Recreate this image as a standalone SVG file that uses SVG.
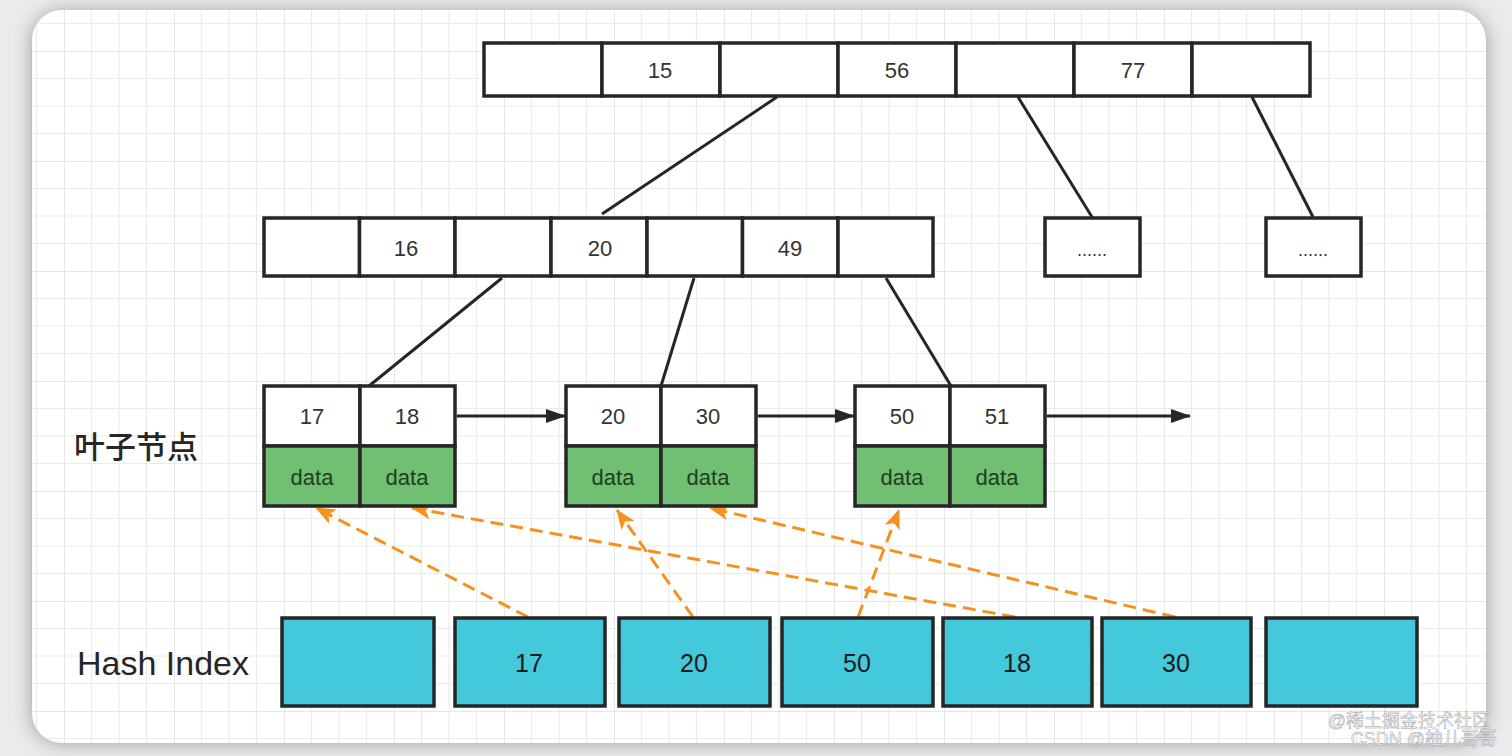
<svg xmlns="http://www.w3.org/2000/svg" width="1512" height="756" viewBox="0 0 1512 756">
<defs>
<pattern id="grid" x="64" y="51" width="110" height="110" patternUnits="userSpaceOnUse">
<path d="M27.5 0V110M55 0V110M82.5 0V110M0 27.5H110M0 55H110M0 82.5H110" stroke="#ebebeb" stroke-width="1.2" fill="none"/>
<path d="M0 0V110M0 0H110" stroke="#e0e0e0" stroke-width="1.5" fill="none"/>
</pattern>
<filter id="shadow" x="-10%" y="-10%" width="120%" height="120%">
<feGaussianBlur stdDeviation="10"/>
</filter>
<marker id="arrBlack" viewBox="0 0 20 14" refX="19" refY="7" markerWidth="20" markerHeight="14" markerUnits="userSpaceOnUse" orient="auto">
<path d="M0 0L20 7L0 14Z" fill="#262626"/>
</marker>
<marker id="arrOrange" viewBox="0 0 20 16" refX="19" refY="8" markerWidth="20" markerHeight="16" markerUnits="userSpaceOnUse" orient="auto">
<path d="M0 0L20 8L0 16L5 8Z" fill="#f5911f"/>
</marker>
<style>
.cell{fill:#ffffff;stroke:#262626;stroke-width:3.5;}
.data{fill:#70bf73;stroke:#262626;stroke-width:3.5;}
.hash{fill:#43c8dc;stroke:#262626;stroke-width:3.5;}
.key{font-family:"Liberation Sans",Arial,sans-serif;font-size:22px;fill:#333333;text-anchor:middle;dominant-baseline:central;}
.dtxt{font-family:"Liberation Sans",Arial,sans-serif;font-size:22px;fill:#1f3d20;text-anchor:middle;dominant-baseline:central;}
.htxt{font-family:"Liberation Sans",Arial,sans-serif;font-size:25px;fill:#1a1a1a;text-anchor:middle;dominant-baseline:central;}
.label{font-family:"Liberation Sans","Noto Sans CJK SC",sans-serif;font-size:34px;fill:#262626;dominant-baseline:central;}
.edge{stroke:#262626;stroke-width:3;fill:none;}
.ptr{stroke:#262626;stroke-width:3;fill:none;marker-end:url(#arrBlack);}
.dash{stroke:#f5911f;stroke-width:3;fill:none;stroke-dasharray:13 7;marker-end:url(#arrOrange);}
.wm{font-family:"Liberation Sans","Noto Sans CJK SC",sans-serif;font-size:18px;fill:#ffffff;fill-opacity:0.85;stroke:#a0a0a0;stroke-width:0.5;text-anchor:end;}
</style>
</defs>
<rect x="0" y="0" width="1512" height="756" fill="#ebebeb"/>
<rect x="32" y="12" width="1454" height="731" rx="30" fill="#9a9a9a" filter="url(#shadow)"/>
<rect x="32" y="10" width="1454" height="733" rx="30" fill="#ffffff"/>
<rect x="32" y="10" width="1454" height="733" rx="30" fill="url(#grid)"/>

<g id="connectors">
<line class="edge" x1="777" y1="97" x2="602" y2="214"/>
<line class="edge" x1="1018" y1="97" x2="1092" y2="217"/>
<line class="edge" x1="1252" y1="97" x2="1313" y2="217"/>
<line class="edge" x1="502" y1="278" x2="369" y2="386"/>
<line class="edge" x1="694" y1="278" x2="661" y2="386"/>
<line class="edge" x1="886" y1="278" x2="951" y2="386"/>
<line class="ptr" x1="457" y1="416" x2="565" y2="416"/>
<line class="ptr" x1="758" y1="416" x2="854" y2="416"/>
<line class="ptr" x1="1047" y1="416" x2="1190" y2="416"/>
<line class="dash" x1="528" y1="617" x2="316" y2="508"/>
<line class="dash" x1="1015" y1="617" x2="412" y2="508"/>
<line class="dash" x1="693" y1="617" x2="617" y2="510"/>
<line class="dash" x1="1175" y1="617" x2="710" y2="508"/>
<line class="dash" x1="858" y1="617" x2="899" y2="510"/>
</g>

<g id="root-node">
<rect class="cell" x="484" y="43" width="118" height="53"/>
<rect class="cell" x="602" y="43" width="118" height="53"/>
<rect class="cell" x="720" y="43" width="118" height="53"/>
<rect class="cell" x="838" y="43" width="118" height="53"/>
<rect class="cell" x="956" y="43" width="118" height="53"/>
<rect class="cell" x="1074" y="43" width="118" height="53"/>
<rect class="cell" x="1192" y="43" width="118" height="53"/>
<text class="key" x="660" y="70">15</text>
<text class="key" x="897" y="70">56</text>
<text class="key" x="1133" y="70">77</text>
</g>

<g id="inner-node">
<rect class="cell" x="264" y="218" width="95.5" height="58"/>
<rect class="cell" x="359.5" y="218" width="95.5" height="58"/>
<rect class="cell" x="455" y="218" width="96" height="58"/>
<rect class="cell" x="551" y="218" width="96" height="58"/>
<rect class="cell" x="647" y="218" width="95.5" height="58"/>
<rect class="cell" x="742.5" y="218" width="95.5" height="58"/>
<rect class="cell" x="838" y="218" width="95" height="58"/>
<text class="key" x="406" y="248">16</text>
<text class="key" x="600" y="248">20</text>
<text class="key" x="790" y="248">49</text>
</g>

<g id="inner-node-2">
<rect class="cell" x="1045" y="218" width="95" height="58"/>
<text class="key" x="1092" y="250" style="font-size:18px">......</text>
</g>
<g id="inner-node-3">
<rect class="cell" x="1266" y="218" width="95" height="58"/>
<text class="key" x="1313" y="250" style="font-size:18px">......</text>
</g>

<g id="leaf-1">
<rect class="cell" x="264" y="386" width="96" height="60"/>
<rect class="cell" x="360" y="386" width="95" height="60"/>
<rect class="data" x="264" y="446" width="96" height="60"/>
<rect class="data" x="360" y="446" width="95" height="60"/>
<text class="key" x="312" y="416">17</text>
<text class="key" x="407" y="416">18</text>
<text class="dtxt" x="312" y="477">data</text>
<text class="dtxt" x="407" y="477">data</text>
</g>

<g id="leaf-2">
<rect class="cell" x="566" y="386" width="95" height="60"/>
<rect class="cell" x="661" y="386" width="95" height="60"/>
<rect class="data" x="566" y="446" width="95" height="60"/>
<rect class="data" x="661" y="446" width="95" height="60"/>
<text class="key" x="613" y="416">20</text>
<text class="key" x="708" y="416">30</text>
<text class="dtxt" x="613" y="477">data</text>
<text class="dtxt" x="708" y="477">data</text>
</g>

<g id="leaf-3">
<rect class="cell" x="855" y="386" width="95" height="60"/>
<rect class="cell" x="950" y="386" width="95" height="60"/>
<rect class="data" x="855" y="446" width="95" height="60"/>
<rect class="data" x="950" y="446" width="95" height="60"/>
<text class="key" x="902" y="416">50</text>
<text class="key" x="997" y="416">51</text>
<text class="dtxt" x="902" y="477">data</text>
<text class="dtxt" x="997" y="477">data</text>
</g>

<g id="leaf-label">
<text class="label" x="74" y="444" style="font-family:'Noto Sans CJK SC',sans-serif;font-size:31px;font-weight:500;">叶子节点</text>
</g>

<g id="hash-label">
<text class="label" x="77" y="663">Hash Index</text>
</g>

<g id="hash-index">
<rect class="hash" x="282" y="618" width="152" height="88"/>
<rect class="hash" x="455" y="618" width="150" height="88"/>
<rect class="hash" x="619" y="618" width="151" height="88"/>
<rect class="hash" x="782" y="618" width="151" height="88"/>
<rect class="hash" x="943" y="618" width="149" height="88"/>
<rect class="hash" x="1102" y="618" width="149" height="88"/>
<rect class="hash" x="1266" y="618" width="151" height="88"/>
<text class="htxt" x="529" y="663">17</text>
<text class="htxt" x="694" y="663">20</text>
<text class="htxt" x="857" y="663">50</text>
<text class="htxt" x="1017" y="663">18</text>
<text class="htxt" x="1176" y="663">30</text>
</g>

<g id="watermark">
<text class="wm" x="1490" y="727">@稀土掘金技术社区</text>
<text class="wm" x="1497" y="745">CSDN @柚儿哥哥</text>
</g>
</svg>
